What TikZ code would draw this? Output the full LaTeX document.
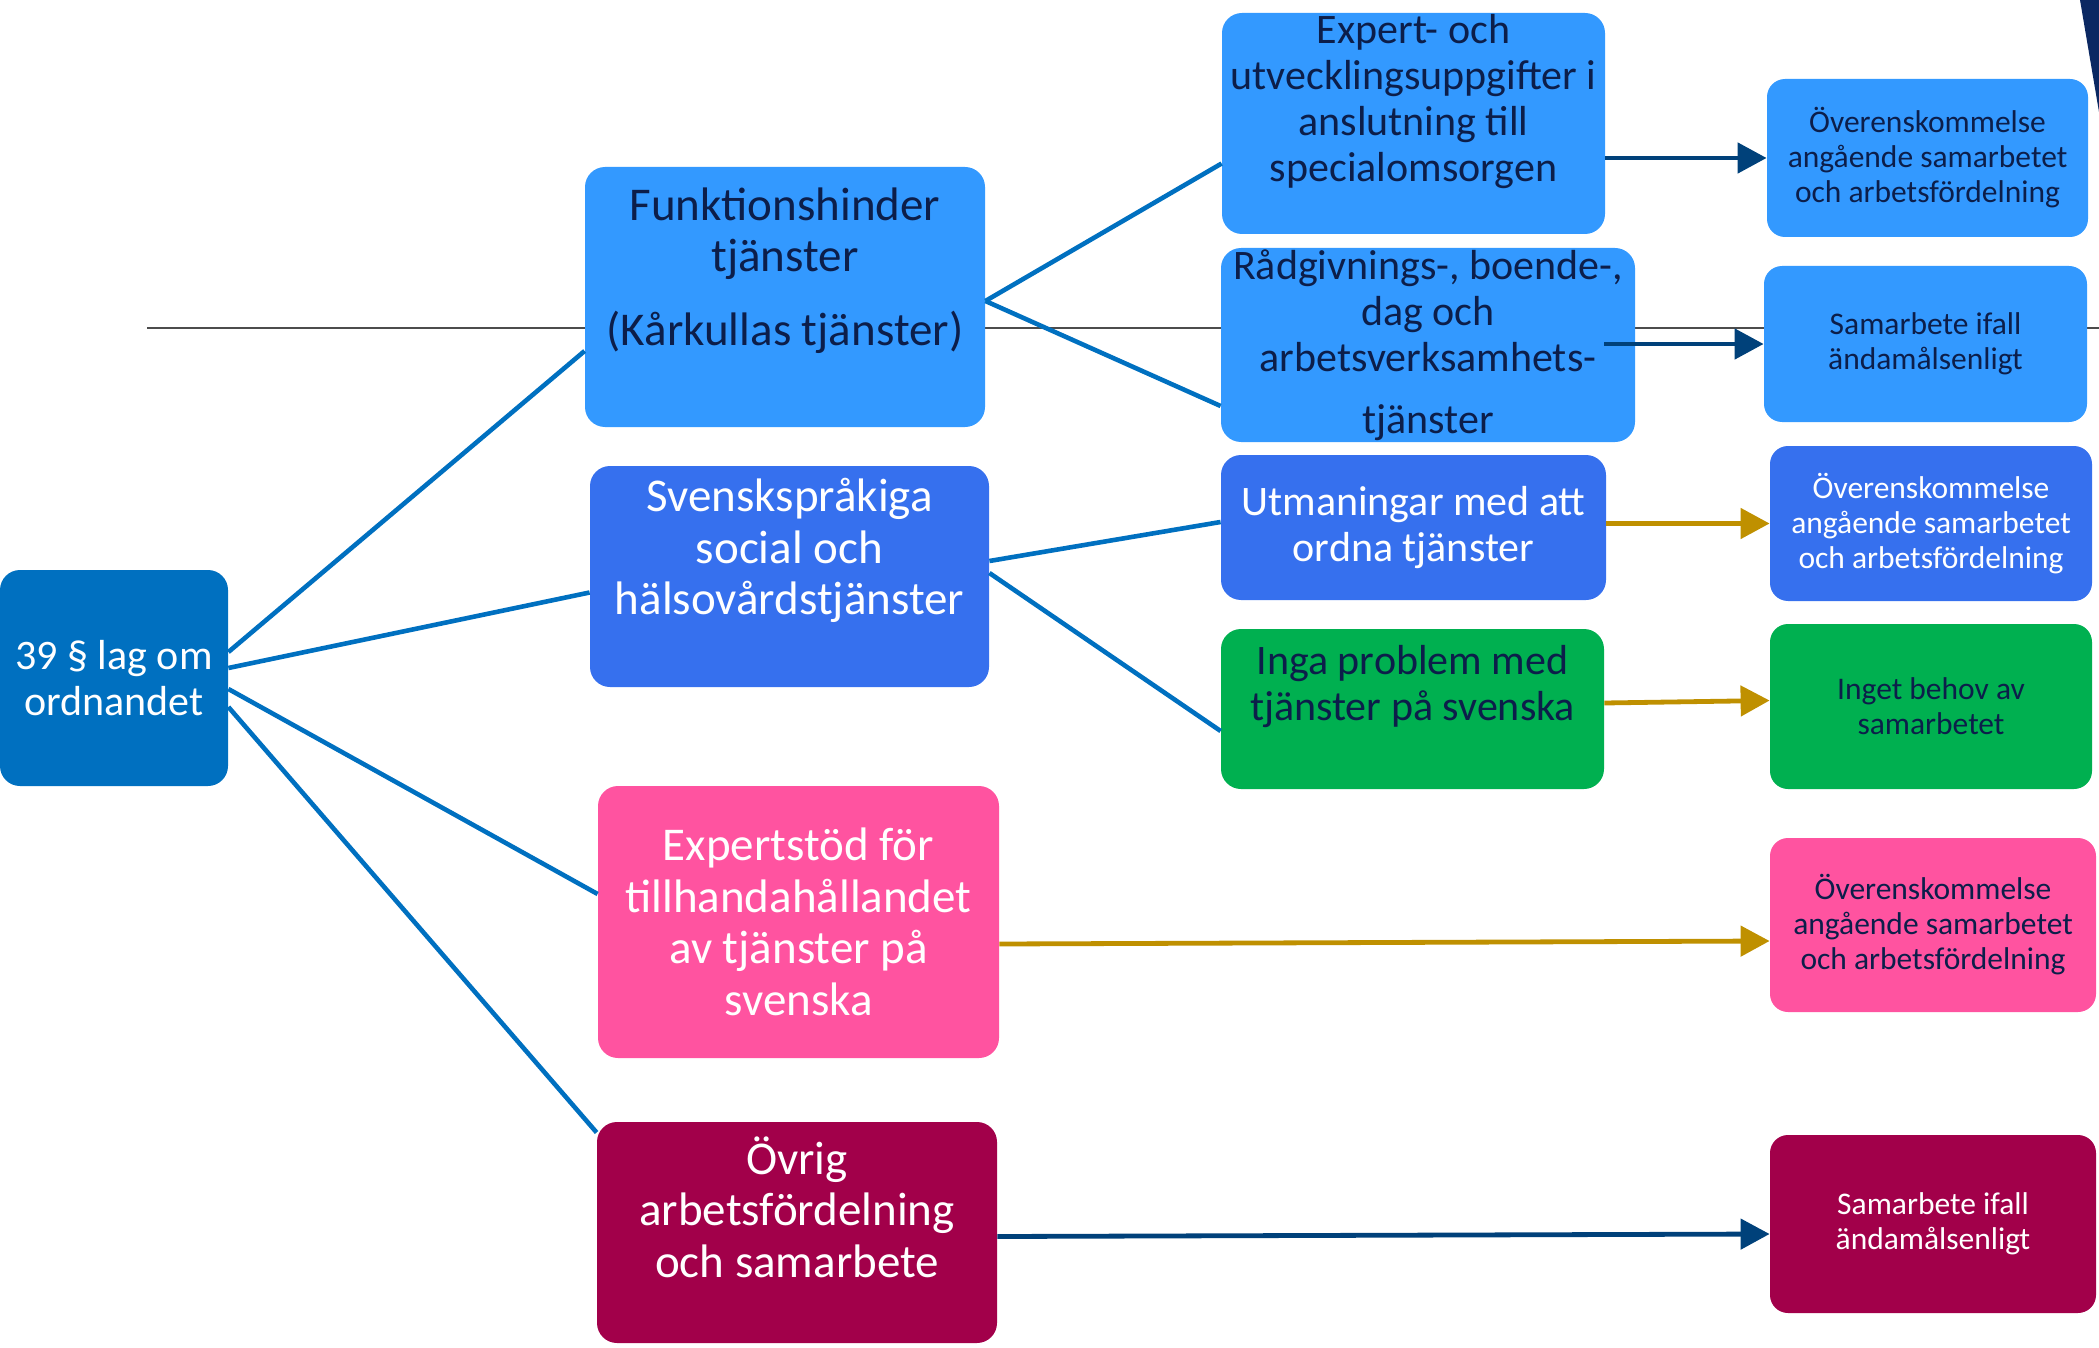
\documentclass[tikz,border=0pt]{standalone}
\usepackage{fontspec}
\setmainfont{Carlito}
\usetikzlibrary{arrows.meta, calc}
\definecolor{rootc}{HTML}{0070C0}
\definecolor{lightc}{HTML}{3399FF}
\definecolor{royalc}{HTML}{3670EE}
\definecolor{greenc}{HTML}{00B050}
\definecolor{pinkc}{HTML}{FF53A0}
\definecolor{maroonc}{HTML}{A2004A}
\definecolor{textc}{HTML}{0C1E4A}
\definecolor{arrowc}{HTML}{00417A}
\definecolor{goldc}{HTML}{BF9000}
\definecolor{cornerc}{HTML}{0B2862}
\tikzstyle{blockbox} = [rectangle, rounded corners=10pt, inner sep=0pt, align=center]
\tikzstyle{blockr} = [blockbox, fill=rootc, text=white, font=\fontsize{21pt}{22.75pt}\selectfont]
\tikzstyle{blockl} = [blockbox, fill=lightc, text=textc]
\tikzstyle{blockb} = [blockbox, fill=royalc, text=white]
\tikzstyle{blockg} = [blockbox, fill=greenc, text=textc]
\tikzstyle{blockp} = [blockbox, fill=pinkc, text=textc]
\tikzstyle{blockm} = [blockbox, fill=maroonc, text=white]
\tikzstyle{bigtxt} = [font=\fontsize{23.5pt}{25.75pt}\selectfont]
\tikzstyle{midtxt} = [font=\fontsize{21pt}{23pt}\selectfont]
\tikzstyle{smalltxt} = [font=\fontsize{15.75pt}{17.5pt}\selectfont, rounded corners=9pt]
\tikzstyle{link} = [draw, rootc, line width=2.3pt]
\tikzstyle{line} = [draw, ->, >={Triangle[length=14.5pt,width=15pt]}, line width=2.4pt]

\begin{document}
\begin{tikzpicture}[x=0.5pt, y=-0.5pt]
\useasboundingbox (0,0) rectangle (2099,1348);

% thin rule behind the boxes
\coordinate (h1) at (147,328);
\coordinate (h2) at (2099,328);
\draw [line width=0.75pt, black!70] (h1) -- (h2);
\fill [cornerc] (2080,0) -- (2099,0) -- (2099,112) -- cycle;

\node [blockr, minimum width=114pt, minimum height=108pt] (L) at (114,678) {39 § lag om\\ordnandet};

\node [blockl, bigtxt, minimum width=200pt, minimum height=130pt] (F) at (785,297) {Funktionshinder\\tjänster\\[11pt](Kårkullas tjänster)\\[5pt]\mbox{}};
\node [blockb, bigtxt, minimum width=199.5pt, minimum height=110.5pt] (S) at (789.5,576.5) {Svenskspråkiga\\social och\\hälsovårdstjänster\\[4pt]\mbox{}};
\node [blockp, bigtxt, text=white, minimum width=200.5pt, minimum height=136pt] (E) at (798.5,922) {Expertstöd för\\tillhandahållandet\\av tjänster på\\svenska};
\node [blockm, bigtxt, minimum width=200pt, minimum height=110.5pt] (O) at (797,1232.5) {Övrig\\arbetsfördelning\\och samarbete\\[0pt]\mbox{}};

\node [blockl, midtxt, minimum width=191.5pt, minimum height=110.5pt] (X) at (1413.5,123.5) {Expert- och\\utvecklingsuppgifter i\\anslutning till\\specialomsorgen\\[3pt]\mbox{}};
\node [blockl, midtxt, minimum width=207pt, minimum height=97pt] (R) at (1428,345) {Rådgivnings-, boende-,\\dag och\\arbetsverksamhets-\\[8pt]tjänster};
\node [blockb, midtxt, minimum width=192.5pt, minimum height=72.5pt] (U) at (1413.5,527.5) {Utmaningar med att\\ordna tjänster};
\node [blockg, midtxt, minimum width=191.5pt, minimum height=80pt] (I) at (1412.5,709) {Inga problem med\\tjänster på svenska\\[3pt]\mbox{}};

\node [blockl, smalltxt, minimum width=160.5pt, minimum height=79pt] (A1) at (1927.5,158) {Överenskommelse\\angående samarbetet\\och arbetsfördelning};
\node [blockl, smalltxt, minimum width=161.5pt, minimum height=78pt] (A2) at (1925.5,344) {Samarbete ifall\\ändamålsenligt};
\node [blockb, smalltxt, minimum width=161pt, minimum height=77.5pt] (A3) at (1931,523.5) {Överenskommelse\\angående samarbetet\\och arbetsfördelning};
\node [blockg, smalltxt, minimum width=161pt, minimum height=82.5pt] (A4) at (1931,706.5) {Inget behov av\\samarbetet};
\node [blockp, smalltxt, minimum width=163pt, minimum height=87pt] (A5) at (1933,925) {Överenskommelse\\angående samarbetet\\och arbetsfördelning};
\node [blockm, smalltxt, minimum width=163pt, minimum height=89pt] (A6) at (1933,1224) {Samarbete ifall\\ändamålsenligt};

\path [link] ([yshift=13pt]L.east) -- ([yshift=-27pt]F.west);
\path [link] ([yshift=5pt]L.east) -- ([yshift=-8pt]S.west);
\path [link] ([yshift=-5.5pt]L.east) -- ([yshift=14pt]E.west);
\path [link] ([yshift=-14.5pt]L.east) -- ([yshift=50pt]O.west);

\path [link] ([yshift=-2pt]F.east) -- ([yshift=-20pt]X.west);
\path [link] ([yshift=-2pt]F.east) -- ([yshift=-30.5pt]R.west);
\path [link] ([yshift=7.75pt]S.east) -- ([yshift=2.75pt]U.west);
\path [link] ([yshift=1.75pt]S.east) -- ([yshift=-11pt]I.west);

\path [line, arrowc] (X.east |- A1) -- (A1);
\path [line, arrowc] ($(R.east |- A2)+(-31,0)$) -- (A2);
\path [line, goldc] (U.east |- A3) -- (A3);
\path [line, goldc] ([yshift=3pt]I.east) -- ([yshift=3pt]A4.west);
\path [line, goldc] ([yshift=-11pt]E.east) -- ([yshift=-8pt]A5.west);
\path [line, arrowc] ([yshift=-2pt]O.east) -- ([yshift=-5pt]A6.west);

\end{tikzpicture}
\end{document}
